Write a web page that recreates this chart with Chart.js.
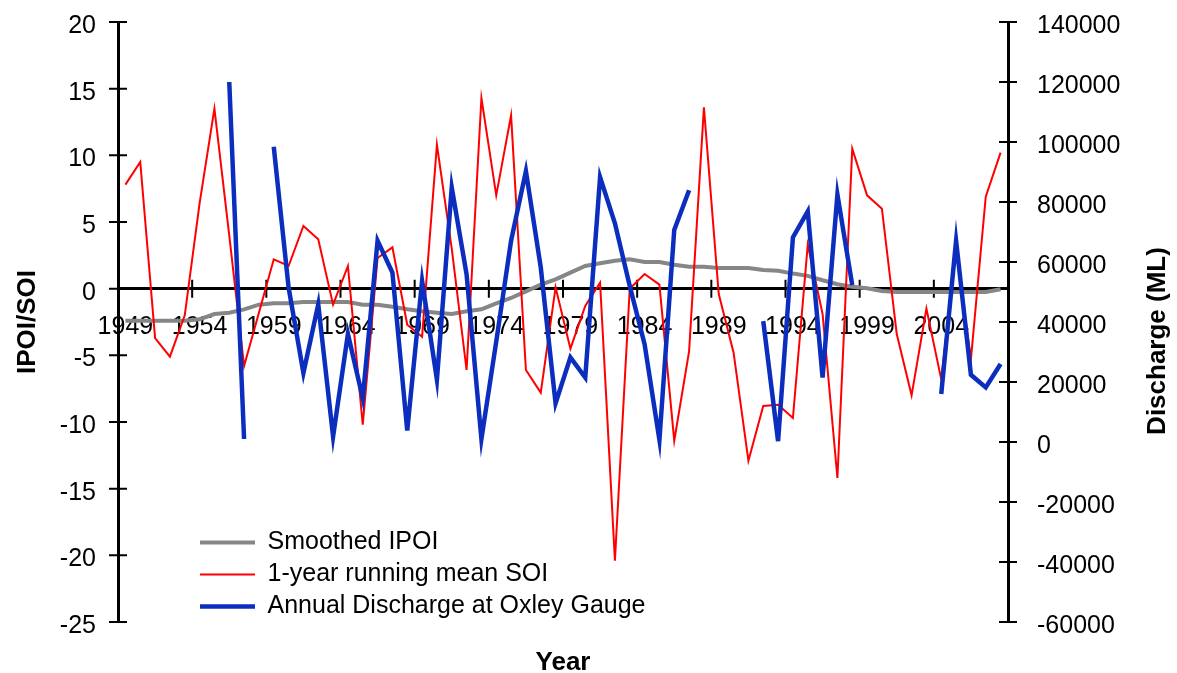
<!DOCTYPE html>
<html>
<head>
<meta charset="utf-8">
<script src="https://cdn.jsdelivr.net/npm/chart.js@4.4.1/dist/chart.umd.min.js"></script>
<style>
  html, body { margin: 0; padding: 0; background: #fff; }
  #wrap { width: 1177px; height: 673px; position: relative; }
</style>
</head>
<body>
<div id="wrap"><canvas id="chart"></canvas></div>
<script>
const years = ['1949','1950','1951','1952','1953','1954','1955','1956','1957','1958',
  '1959','1960','1961','1962','1963','1964','1965','1966','1967','1968',
  '1969','1970','1971','1972','1973','1974','1975','1976','1977','1978',
  '1979','1980','1981','1982','1983','1984','1985','1986','1987','1988',
  '1989','1990','1991','1992','1993','1994','1995','1996','1997','1998',
  '1999','2000','2001','2002','2003','2004','2005','2006','2007','2008'];

const ipoi = [-2.4, -2.4, -2.4, -2.4, -2.4, -2.3, -1.9, -1.8, -1.55, -1.2,
  -1.1, -1.1, -1.0, -1.0, -1.0, -1.0, -1.2, -1.2, -1.35, -1.55,
  -1.7, -1.8, -1.9, -1.7, -1.55, -1.1, -0.7, -0.2, 0.3, 0.7,
  1.2, 1.7, 1.9, 2.1, 2.2, 2.0, 2.0, 1.8, 1.65, 1.65,
  1.55, 1.55, 1.55, 1.4, 1.35, 1.13, 0.96, 0.63, 0.33, 0.15,
  0.03, -0.17, -0.25, -0.25, -0.25, -0.25, -0.25, -0.25, -0.25, -0.05];

const soi = [7.8, 9.5, -3.7, -5.1, -2.0, 6.4, 13.5, 4.0, -5.8, -1.8,
  2.2, 1.7, 4.7, 3.7, -1.2, 1.7, -10.2, 2.3, 3.1, -2.7,
  -3.6, 10.8, 3.0, -6.1, 14.3, 7.0, 13.0, -6.1, -7.8, 0.1,
  -4.5, -1.3, 0.45, -20.4, 0.0, 1.1, 0.3, -11.4, -4.7, 13.6,
  -0.4, -4.8, -12.9, -8.8, -8.7, -9.7, 3.3, -1.9, -14.2, 10.5,
  7.0, 6.0, -3.4, -8.0, -1.5, -6.8, 3.0, -5.3, 6.9, 10.2];

const discharge = [null, null, null, null, null, null, null, 120000, 1000, null,
  98400, 51500, 23000, 45900, 1800, 36000, 14600, 67100, 56500, 3800,
  53700, 20800, 84800, 55900, 1000, 33500, 67100, 90300, 58200, 12900,
  28200, 21500, 88300, 72900, 52000, 32600, 700, 70700, 83900, null,
  null, null, null, 40300, 300, 68200, 76900, 21500, 82500, 52300,
  null, null, null, null, null, 16000, 67100, 22400, 18200, 26000];

Chart.defaults.font.family = '"Liberation Sans", Arial, sans-serif';
Chart.defaults.font.size = 25;
Chart.defaults.color = '#000';

// Excel style tick marks that cross the axis lines, plus the right title
const axisMarks = {
  id: 'axisMarks',
  beforeDatasetsDraw(chart) {
    const {ctx, scales} = chart;
    const x = scales.x, yl = scales.y, yr = scales.y2;
    const half = (x.getPixelForTick(1) - x.getPixelForTick(0)) / 2;
    const y0 = yl.getPixelForValue(0);
    ctx.save();
    ctx.strokeStyle = '#000';
    ctx.lineWidth = 2;
    ctx.beginPath();
    yl.ticks.forEach((t, i) => {
      const py = yl.getPixelForTick(i);
      ctx.moveTo(yl.right - 9, py);
      ctx.lineTo(yl.right + 9, py);
    });
    yr.ticks.forEach((t, i) => {
      const py = yr.getPixelForTick(i);
      ctx.moveTo(yr.left - 9, py);
      ctx.lineTo(yr.left + 9, py);
    });
    x.ticks.forEach((t, i) => {
      if (i === 0 || i % 5 !== 0) return;
      const px = x.getPixelForTick(i) - half;
      ctx.moveTo(px, y0 - 9);
      ctx.lineTo(px, y0 + 9);
    });
    ctx.stroke();
    ctx.restore();
  },
  afterDraw(chart) {
    const {ctx, scales} = chart;
    const yr = scales.y2;
    ctx.save();
    ctx.translate(yr.right - 19, (yr.top + yr.bottom) / 2 + 19);
    ctx.rotate(-Math.PI / 2);
    ctx.font = 'bold 26px "Liberation Sans", Arial, sans-serif';
    ctx.fillStyle = '#000';
    ctx.textAlign = 'center';
    ctx.textBaseline = 'middle';
    ctx.fillText('Discharge (ML)', 0, 0);
    ctx.restore();
  }
};

// move the legend to the lower left corner of the plot
const legendSpot = {
  id: 'legendSpot',
  afterLayout(chart) {
    const lg = chart.legend;
    const w = lg.width;
    lg.left = chart.chartArea.left + 75;
    lg.right = lg.left + w;
    lg.bottom = chart.chartArea.bottom + 4;
  }
};

// keep the y scales from pushing the plot top down
const fixY = (width) => (s) => {
  s.width = width;
  s.paddingTop = 0;
  s.paddingBottom = 0;
};

const ctx = document.getElementById('chart').getContext('2d');
new Chart(ctx, {
  type: 'line',
  data: {
    labels: years,
    datasets: [{
      label: 'Smoothed IPOI',
      data: ipoi,
      borderColor: '#868686',
      backgroundColor: '#868686',
      borderWidth: 4,
      xAxisID: 'x',
      yAxisID: 'y',
      order: 3
    }, {
      label: '1-year running mean SOI',
      data: soi,
      borderColor: '#ff0000',
      backgroundColor: '#ff0000',
      borderWidth: 2,
      xAxisID: 'x',
      yAxisID: 'y',
      order: 2
    }, {
      label: 'Annual Discharge at Oxley Gauge',
      data: discharge,
      borderColor: '#0c2ebe',
      backgroundColor: '#0c2ebe',
      borderWidth: 4.5,
      xAxisID: 'x',
      yAxisID: 'y2',
      order: 1
    }]
  },
  options: {
    responsive: true,
    maintainAspectRatio: false,
    animation: false,
    layout: { padding: { top: 22, left: 0, right: 0, bottom: 0 } },
    elements: {
      point: { radius: 0, hoverRadius: 0 },
      line: { tension: 0 }
    },
    plugins: {
      legend: {
        position: 'chartArea',
        fullSize: false,
        align: 'end',
        labels: {
          sort: (a, b) => a.datasetIndex - b.datasetIndex,
          usePointStyle: true,
          pointStyle: 'line',
          pointStyleWidth: 55,
          padding: 7,
          font: { size: 25 },
          color: '#000'
        }
      },
      tooltip: { enabled: false }
    },
    scales: {
      x: {
        type: 'category',
        position: { y: 0 },
        offset: true,
        grid: { display: false, drawTicks: false },
        border: { display: true, color: '#000', width: 3 },
        ticks: {
          autoSkip: false,
          maxRotation: 0,
          padding: 23,
          callback: function (value, index) {
            return index % 5 === 0 ? this.getLabelForValue(value) : '';
          }
        },
        afterFit: (s) => { s.height = 0; }
      },
      xt: {
        type: 'category',
        position: 'bottom',
        grid: { display: false, drawTicks: false },
        border: { display: false },
        ticks: { display: false },
        title: {
          display: true,
          text: 'Year',
          font: { size: 26, weight: 'bold', lineHeight: 1 },
          padding: { top: 0, bottom: -3 }
        },
        afterFit: (s) => { s.height = 51; }
      },
      y: {
        position: 'left',
        min: -25,
        max: 20,
        grid: { display: false, drawTicks: false },
        border: { display: true, color: '#000', width: 3 },
        ticks: { stepSize: 5, padding: 22, labelOffset: 4 },
        title: {
          display: true,
          text: 'IPOI/SOI',
          font: { size: 26, weight: 'bold', lineHeight: 1 },
          padding: { top: 15, bottom: 0 }
        },
        afterFit: fixY(118)
      },
      y2: {
        position: 'right',
        min: -60000,
        max: 140000,
        grid: { display: false, drawTicks: false },
        border: { display: true, color: '#000', width: 3 },
        ticks: {
          stepSize: 20000,
          padding: 29,
          labelOffset: 4,
          callback: (v) => String(v)
        },
        afterFit: fixY(169)
      }
    }
  },
  plugins: [axisMarks, legendSpot]
});
</script>
</body>
</html>
